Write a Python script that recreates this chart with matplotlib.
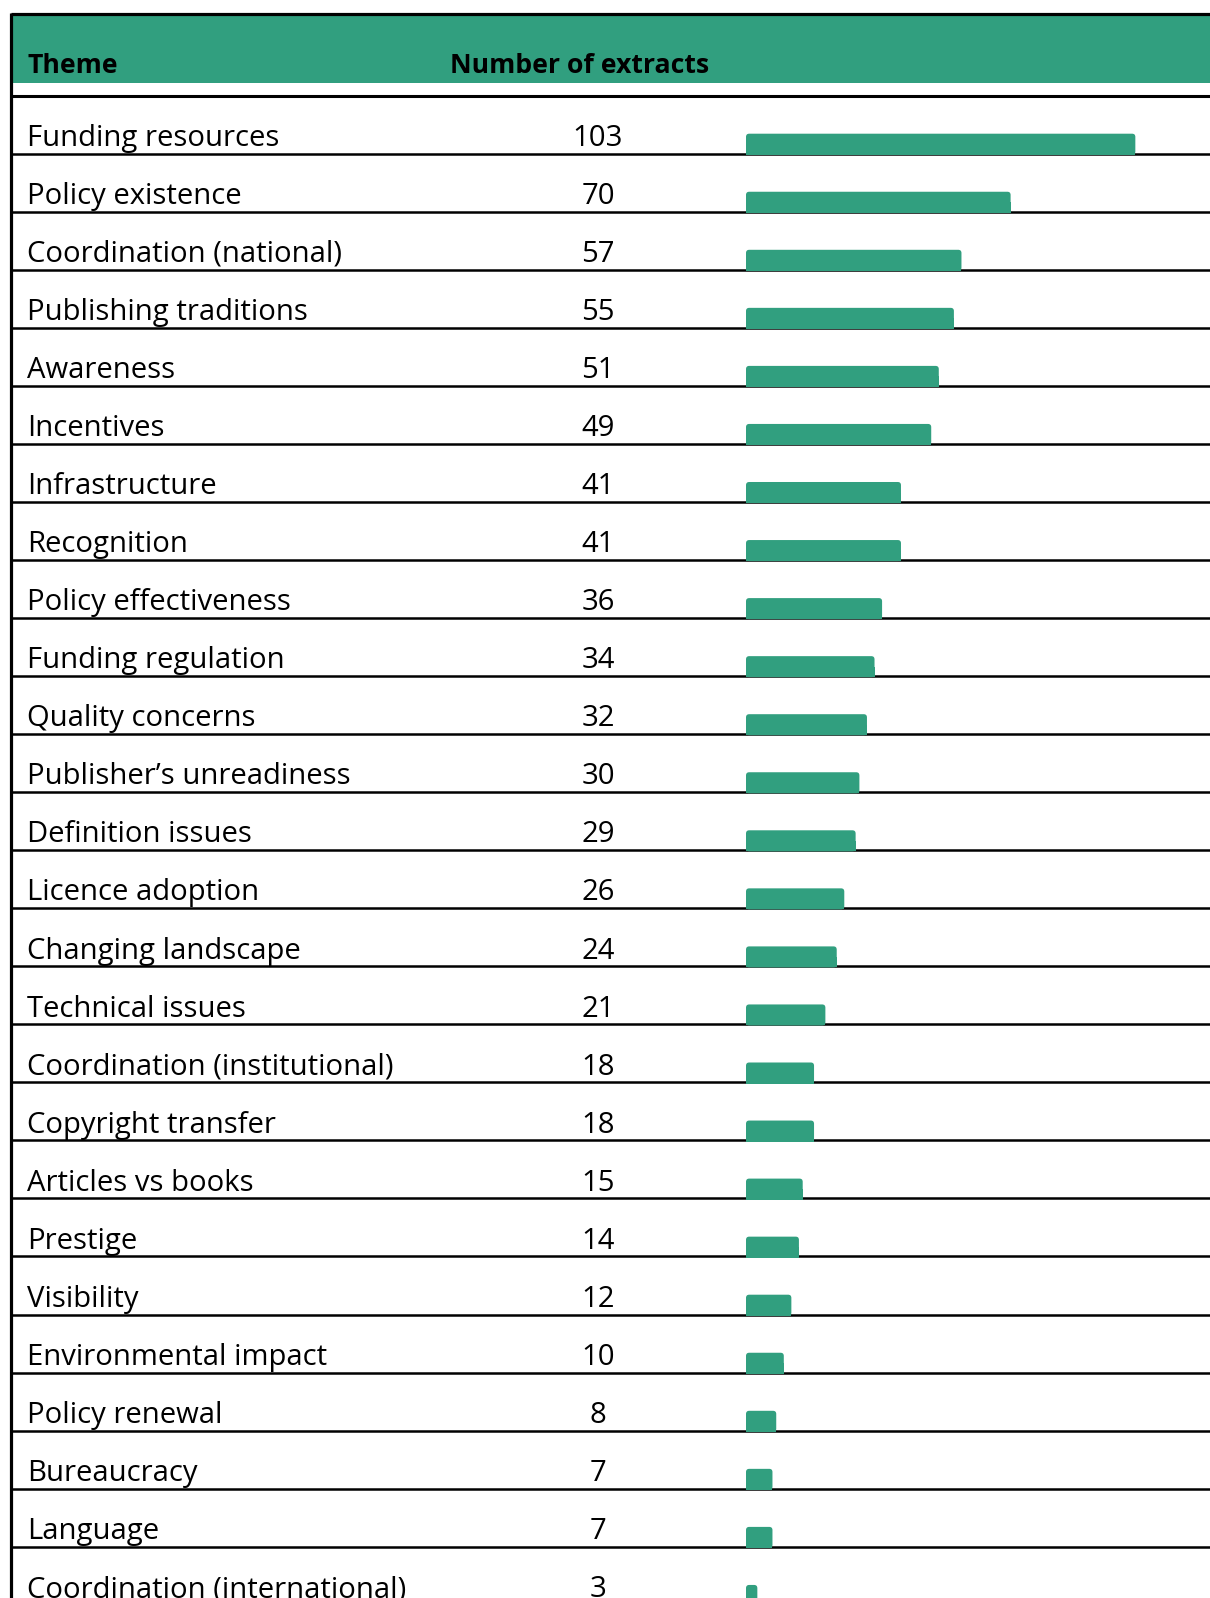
import numpy as np
import matplotlib.pyplot as plt
from matplotlib.patches import Rectangle, FancyBboxPatch

plt.rcParams['font.family'] = ['Open Sans', 'DejaVu Sans']

# --- data ---
themes = [
    "Funding resources", "Policy existence", "Coordination (national)",
    "Publishing traditions", "Awareness", "Incentives", "Infrastructure",
    "Recognition", "Policy effectiveness", "Funding regulation",
    "Quality concerns", "Publisher\u2019s unreadiness", "Definition issues",
    "Licence adoption", "Changing landscape", "Technical issues",
    "Coordination (institutional)", "Copyright transfer", "Articles vs books",
    "Prestige", "Visibility", "Environmental impact", "Policy renewal",
    "Bureaucracy", "Language", "Coordination (international)",
]
counts = [103, 70, 57, 55, 51, 49, 41, 41, 36, 34, 32, 30, 29, 26, 24, 21,
          18, 18, 15, 14, 12, 10, 8, 7, 7, 3]
headers = ["Theme", "Number of extracts"]

GREEN = '#319f7f'
W, H = 1210, 1598
ROW_TOP = 95.5      # px, header rule
PITCH = 58.05       # px per row
BAR_X0 = 746        # px, where bars start
PX_PER_UNIT = 3.78


def py(px):
    # pixel row -> row units
    return (px - ROW_TOP) / PITCH


fig = plt.figure(figsize=(W / 100, H / 100), dpi=100)
ylim = (py(H), py(0))

# --- table frame / text ---
ax = fig.add_axes([0, 0, 1, 1])
ax.set_xlim(0, W)
ax.set_ylim(*ylim)
ax.axis('off')

ax.add_patch(Rectangle((11, py(15)), W - 11, (83 - 15) / PITCH,
                       facecolor=GREEN, edgecolor='none', zorder=1))
ax.plot([11, W], [py(14), py(14)], color='black', lw=2.3, zorder=2,
        solid_capstyle='butt')
ax.plot([11, W], [0, 0], color='black', lw=2.2, zorder=2, solid_capstyle='butt')
ax.plot([11, 11], [py(13), ylim[0]], color='black', lw=2.3, zorder=2,
        solid_capstyle='butt')

n = len(themes)
for i in range(n):
    ax.plot([11, W], [i + 1, i + 1], color='black', lw=1.8, zorder=2,
            solid_capstyle='butt')
    ax.text(27, i + 0.867, themes[i], fontsize=21.1, va='baseline', ha='left')
    ax.text(598, i + 0.867, str(counts[i]), fontsize=21.1, va='baseline',
            ha='center')

ax.text(27, py(73), headers[0], fontsize=19.2, fontweight='bold',
        va='baseline', ha='left')
ax.text(450, py(73), headers[1], fontsize=19.2, fontweight='bold',
        va='baseline', ha='left')

# --- bars ---
bx = fig.add_axes([BAR_X0 / W, 0, (W - BAR_X0) / W, 1])
bx.set_xlim(0, (W - BAR_X0) / PX_PER_UNIT)
bx.set_ylim(*ylim)
bx.axis('off')
bx.patch.set_alpha(0)

bar_h = 0.362
bar_bottom = np.arange(n) + 1.02
# square lower half, rounded full bar on top of it
bx.barh(bar_bottom - bar_h / 4, counts, height=bar_h / 2, color=GREEN,
        edgecolor='none', zorder=3)
r = 0.85
for yb, v in zip(bar_bottom, counts):
    rr = min(r, v / 2.5)
    bx.add_patch(FancyBboxPatch((0, yb - bar_h), v, bar_h,
                                boxstyle=f"round,pad=0,rounding_size={rr}",
                                mutation_aspect=(3.2 / PITCH) / r,
                                facecolor=GREEN, edgecolor='none', zorder=3))

fig.savefig('out.png', dpi=100)
